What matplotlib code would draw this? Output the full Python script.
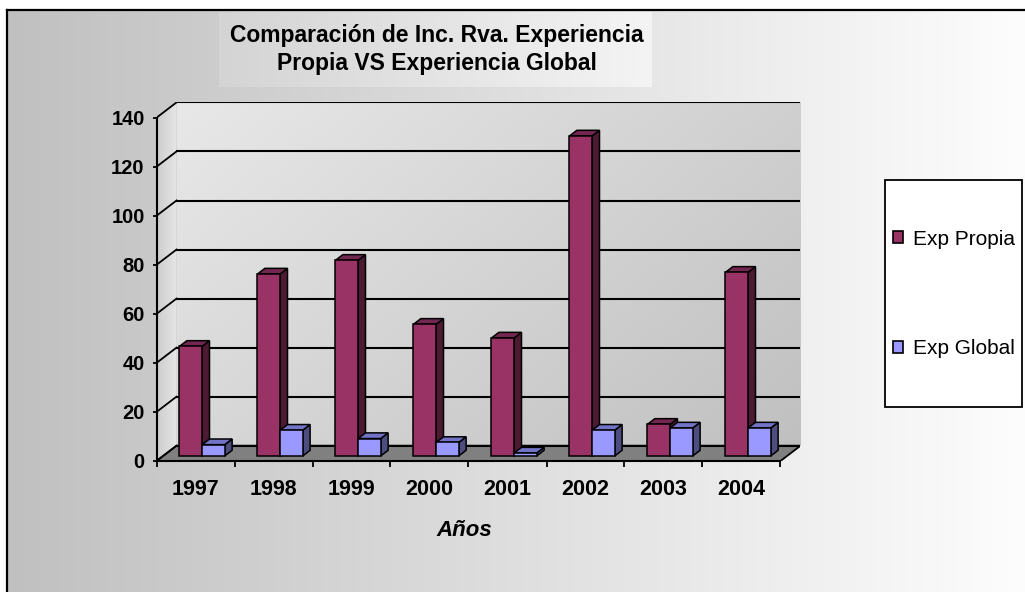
import numpy as np
import matplotlib.pyplot as plt
from matplotlib.patches import Polygon, Rectangle, Patch

plt.rcParams['font.family'] = ['Liberation Sans', 'DejaVu Sans']

# data
years = ['1997', '1998', '1999', '2000', '2001', '2002', '2003', '2004']
exp_propia = [44.7, 74.2, 79.8, 53.7, 48.1, 130.5, 12.9, 74.9]
exp_global = [4.6, 10.5, 7.1, 5.5, 1.2, 10.5, 11.4, 11.4]
y_ticks = [0, 20, 40, 60, 80, 100, 120, 140]
series_names = ['Exp Propia', 'Exp Global']

# colours: front, top, side
propia_cols = ('#993366', '#732650', '#4d1a33')
global_cols = ('#9999ff', '#7373c6', '#4d4d80')

# layout in pixels
W, H = 1025, 592
X0, Y0 = 156.5, 461.0        # front corner of the floor
PX_CAT, PX_UNIT = 78.0, 2.452
DX = 20.0 / PX_CAT           # depth offset in category units
DY = 15.3 / PX_UNIT          # depth offset in value units
Z0, Z1 = 0.33, 0.70          # bar depth range
BW = 0.29                    # bar width
ymax = y_ticks[-1]
n = len(years)

fig = plt.figure(figsize=(W / 100, H / 100), dpi=100)
fig.patch.set_facecolor('white')

# background / chart area
bg = fig.add_axes([0, 0, 1, 1])
bg.set_axis_off()
grad = np.linspace(192, 253, 512) / 255.0
img = np.repeat(grad[None, :, None], 3, axis=2)
bg.imshow(img, extent=(7, W, H, 10), aspect='auto', interpolation='bicubic')
bg.plot([7, 7], [H, 10], color='black', lw=1.6)
bg.plot([7, W], [10, 10], color='black', lw=1.6)

# title box
tg = np.linspace(212, 244, 256) / 255.0
timg = np.repeat(tg[None, :, None], 3, axis=2)
bg.imshow(timg, extent=(219, 652, 87, 12), aspect='auto', interpolation='bicubic')
bg.text(437, 49.5, 'Comparación de Inc. Rva. Experiencia\nPropia VS Experiencia Global',
        ha='center', va='center', fontsize=16.5, fontweight='bold', linespacing=1.3)

# legend frame
bg.add_patch(Rectangle((885, 180), 137, 227, fc='white', ec='black', lw=1.3))
bg.set_xlim(0, W)
bg.set_ylim(H, 0)

# plot axes
xr = n + DX
yr = ymax + DY
ax = fig.add_axes([X0 / W, (H - Y0) / H, xr * PX_CAT / W, yr * PX_UNIT / H])
ax.patch.set_visible(False)

# back wall with diagonal gradient
gx, gy = np.meshgrid(np.linspace(0, 1, 200), np.linspace(0, 1, 200))
wall = (232 - 40 * (gx * 0.6 + gy * 0.4)) / 255.0
ax.imshow(np.dstack([wall] * 3), extent=(DX, n + DX, DY, ymax + DY), origin='upper',
          aspect='auto', interpolation='bicubic', zorder=0)

# left side wall
side = Polygon([(0, 0), (DX, DY), (DX, ymax + DY), (0, ymax)], closed=True,
               fc='none', ec='none')
ax.add_patch(side)
sg = np.linspace(205, 230, 64) / 255.0
simg = ax.imshow(np.repeat(sg[None, :, None], 3, axis=2), extent=(0, DX, 0, ymax + DY),
                 aspect='auto', interpolation='bicubic', zorder=0)
simg.set_clip_path(side)

# floor
ax.add_patch(Polygon([(0, 0), (n, 0), (n + DX, DY), (DX, DY)], closed=True,
                     fc='#808080', ec='black', lw=1.3, zorder=1))

# gridlines on back wall and side wall
for v in y_ticks:
    ax.plot([DX, n + DX], [v + DY, v + DY], color='black', lw=1.5, zorder=1.5)
    ax.plot([0, DX], [v, v + DY], color='black', lw=1.3, zorder=1.5)


def draw_bar(x_left, value, cols):
    xl, xrt = x_left, x_left + BW
    f = [(xl + Z0 * DX, Z0 * DY), (xrt + Z0 * DX, Z0 * DY),
         (xrt + Z0 * DX, value + Z0 * DY), (xl + Z0 * DX, value + Z0 * DY)]
    top = [(xl + Z0 * DX, value + Z0 * DY), (xrt + Z0 * DX, value + Z0 * DY),
           (xrt + Z1 * DX, value + Z1 * DY), (xl + Z1 * DX, value + Z1 * DY)]
    sd = [(xrt + Z0 * DX, Z0 * DY), (xrt + Z1 * DX, Z1 * DY),
          (xrt + Z1 * DX, value + Z1 * DY), (xrt + Z0 * DX, value + Z0 * DY)]
    for pts, c in ((sd, cols[2]), (top, cols[1]), (f, cols[0])):
        ax.add_patch(Polygon(pts, closed=True, fc=c, ec='black', lw=1.1,
                             joinstyle='miter', zorder=3))


for i in range(n):
    draw_bar(i + 0.5 - BW, exp_propia[i], propia_cols)
    draw_bar(i + 0.5, exp_global[i], global_cols)

ax.set_xlim(0, xr)
ax.set_ylim(0, yr)

for s in ['top', 'right']:
    ax.spines[s].set_visible(False)
ax.spines['left'].set_bounds(0, ymax)
ax.spines['bottom'].set_bounds(0, n)
ax.spines['left'].set_linewidth(1.5)
ax.spines['bottom'].set_linewidth(1.5)
ax.spines['left'].set_zorder(4)
ax.spines['bottom'].set_zorder(4)

ax.set_yticks(y_ticks)
ax.set_yticklabels([str(v) for v in y_ticks], fontsize=14.5, fontweight='bold')
ax.tick_params(axis='y', length=3, width=1.3, pad=5.5)

ax.set_xticks(range(n + 1))
ax.set_xticklabels([''] * (n + 1))
ax.set_xticks([i + 0.5 for i in range(n)], minor=True)
ax.set_xticklabels(years, minor=True, fontsize=15.5, fontweight='bold')
ax.tick_params(axis='x', which='major', length=4.5, width=1.3)
ax.tick_params(axis='x', which='minor', length=0, pad=13)

ax.set_xlabel('Años', fontsize=16, fontweight='bold', fontstyle='italic')
ax.xaxis.set_label_coords((464.5 - X0) / (xr * PX_CAT), -(530 - Y0) / (yr * PX_UNIT))
ax.xaxis.label.set_va('center')

# legend
handles = [Patch(fc=propia_cols[0], ec='black', lw=1.2),
           Patch(fc=global_cols[0], ec='black', lw=1.2)]
fig.legend(handles, series_names, loc='center', bbox_to_anchor=(954 / W, 1 - 294 / H),
           frameon=False, fontsize=15, labelspacing=4.35, handlelength=0.5,
           handleheight=0.5, handletextpad=0.5, borderaxespad=0)

fig.savefig('out.png', dpi=100)
